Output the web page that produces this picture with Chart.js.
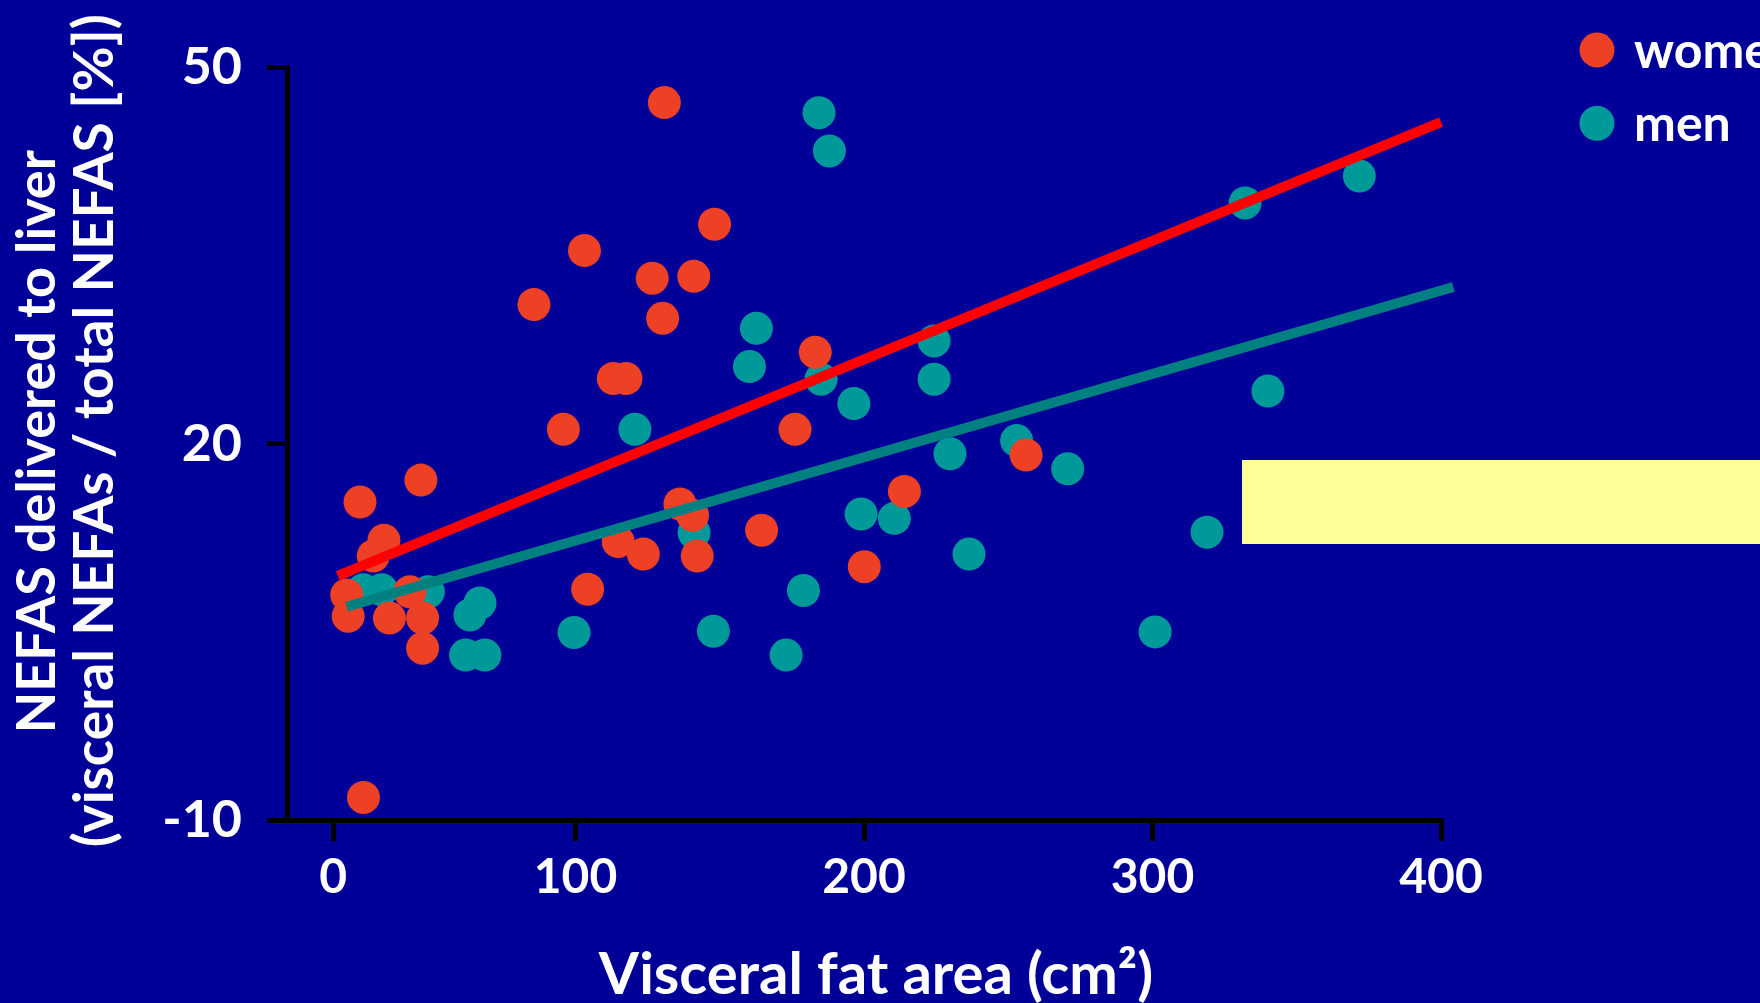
<!DOCTYPE html>
<html>
<head>
<meta charset="utf-8">
<script src="https://cdn.jsdelivr.net/npm/chart.js@4.4.0/dist/chart.umd.min.js"></script>
<style>
  html, body { margin: 0; padding: 0; background: #000099; overflow: hidden; }
  #wrap { position: relative; width: 1760px; height: 1003px; }
</style>
</head>
<body>
<div id="wrap"><canvas id="chart"></canvas></div>
<script>
// Visceral fat area (cm²) against the share of NEFAs delivered to the liver (%)
const seriesLabels = ['women', 'men'];

const womenX = [130.8, 103.1, 148.2, 126.6, 141.0, 85.6, 130.2, 113.1, 117.5, 183.1,
                95.8, 176.1, 256.2, 46.4, 25.3, 136.2, 140.6, 214.0, 164.5, 33.6,
                29.9, 114.8, 123.5, 142.2, 200.1, 104.2, 20.7, 42.6, 21.2, 35.5,
                47.0, 47.0, 26.5];
const womenY = [47.2, 35.4, 37.5, 33.2, 33.35, 31.1, 30.0, 25.2, 25.2, 27.3,
                21.15, 21.15, 19.1, 17.1, 15.35, 15.2, 14.3, 16.2, 13.1, 12.3,
                11.05, 12.2, 11.2, 11.05, 10.2, 8.4, 7.95, 8.2, 6.25, 6.1,
                6.1, 3.7, -8.2];

const menX = [184.4, 188.0, 371.7, 332.1, 162.7, 224.3, 160.3, 185.1, 224.3, 340.0,
              196.5, 120.6, 252.9, 229.8, 270.6, 141.1, 199.0, 210.5, 318.9, 236.4,
              179.0, 26.4, 32.8, 49.0, 66.9, 63.4, 61.9, 68.6, 99.5, 147.8,
              173.0, 300.9];
const menY = [46.4, 43.35, 41.35, 39.2, 29.2, 28.2, 26.15, 25.15, 25.15, 24.2,
              23.2, 21.15, 20.25, 19.2, 18.0, 12.9, 14.4, 14.05, 12.95, 11.2,
              8.3, 8.35, 8.35, 8.2, 7.3, 6.35, 3.15, 3.15, 4.95, 5.05,
              3.15, 5.0];

// regression line end points
const womenFitX = [17.6, 400];
const womenFitY = [9.46, 45.65];
const menFitX = [20.7, 404.3];
const menFitY = [7.0, 32.5];

// axis ticks
const xTickValues = [16, 100, 200, 300, 400];
const xTickLabels = ['0', '100', '200', '300', '400'];
const yTickValues = [-10, 20, 50];
const yTickLabels = ['-10', '20', '50'];

const xTitle = 'Visceral fat area (cm\u00B2)';
const yTitleLines = ['NEFAS delivered to liver', '(visceral NEFAs / total NEFAS [%])'];

const FONT = 'Lato';
const BG = '#000099';
const WOMEN_COLOR = '#ee4024';
const MEN_COLOR = '#009999';

const toPoints = (xs, ys) => xs.map((x, i) => ({ x: x, y: ys[i] }));

// solid background behind everything
const backgroundPlugin = {
  id: 'background',
  beforeDraw(chart) {
    const c = chart.ctx;
    c.save();
    c.fillStyle = BG;
    c.fillRect(0, 0, chart.width, chart.height);
    c.restore();
  }
};

// pale yellow panel on the right
const panelPlugin = {
  id: 'panel',
  afterDraw(chart) {
    const c = chart.ctx;
    c.save();
    c.fillStyle = '#ffff99';
    c.fillRect(1242, 460, chart.width - 1242, 84);
    c.restore();
  }
};

// axis titles
const titlesPlugin = {
  id: 'axisTitles',
  afterDraw(chart) {
    const c = chart.ctx;
    const a = chart.chartArea;
    c.save();
    c.fillStyle = '#ffffff';
    c.font = 'bold 58px ' + FONT;
    c.textAlign = 'center';
    c.textBaseline = 'alphabetic';
    c.fillText(xTitle, (a.left + a.right) / 2 + 12, 994);

    const mid = (a.top + a.bottom) / 2;
    const rows = [
      { x: 55, y: mid - 2, size: 54 },
      { x: 113, y: mid - 13, size: 55 }
    ];
    yTitleLines.forEach((line, i) => {
      c.save();
      c.font = 'bold ' + rows[i].size + 'px ' + FONT;
      c.translate(rows[i].x, rows[i].y);
      c.rotate(-Math.PI / 2);
      c.fillText(line, 0, 0);
      c.restore();
    });
    c.restore();
  }
};

// legend in the top right corner, built from the scatter series
const legendPlugin = {
  id: 'cornerLegend',
  afterDraw(chart) {
    const c = chart.ctx;
    c.save();
    c.font = 'bold 50px ' + FONT;
    c.textAlign = 'left';
    c.textBaseline = 'alphabetic';
    const rows = chart.data.datasets.filter(d => seriesLabels.includes(d.label));
    rows.forEach((d, i) => {
      const cy = 50 + i * 73.3;
      c.fillStyle = d.backgroundColor;
      c.beginPath();
      c.arc(1597, cy, 17.5, 0, Math.PI * 2);
      c.fill();
      c.fillStyle = '#ffffff';
      c.fillText(d.label, 1634, cy + 18);
    });
    c.restore();
  }
};

new Chart(document.getElementById('chart'), {
  type: 'scatter',
  data: {
    datasets: [
      {
        label: 'women fit',
        data: toPoints(womenFitX, womenFitY),
        showLine: true,
        borderColor: '#ff0000',
        borderWidth: 10,
        borderCapStyle: 'butt',
        pointRadius: 0,
        pointHoverRadius: 0,
        clip: false
      },
      {
        label: 'men fit',
        data: toPoints(menFitX, menFitY),
        showLine: true,
        borderColor: '#008080',
        borderWidth: 10,
        borderCapStyle: 'butt',
        pointRadius: 0,
        pointHoverRadius: 0,
        clip: false
      },
      {
        label: seriesLabels[0],
        data: toPoints(womenX, womenY),
        backgroundColor: WOMEN_COLOR,
        borderWidth: 0,
        pointRadius: 16.5,
        pointHoverRadius: 16.5,
        clip: false
      },
      {
        label: seriesLabels[1],
        data: toPoints(menX, menY),
        backgroundColor: MEN_COLOR,
        borderWidth: 0,
        pointRadius: 16.5,
        pointHoverRadius: 16.5,
        clip: false
      }
    ]
  },
  options: {
    responsive: true,
    maintainAspectRatio: false,
    animation: false,
    devicePixelRatio: 1,
    events: [],
    layout: { padding: { top: 67.5, right: 319, bottom: 0, left: 0 } },
    plugins: {
      legend: { display: false },
      tooltip: { enabled: false }
    },
    scales: {
      x: {
        type: 'linear',
        min: 0,
        max: 400,
        afterBuildTicks: s => { s.ticks = xTickValues.map(v => ({ value: v })); },
        afterFit: s => { s.height = 183; },
        grid: { drawOnChartArea: false, color: '#000', lineWidth: 5, tickLength: 21, tickColor: '#000', tickWidth: 5 },
        border: { color: '#000', width: 5 },
        ticks: {
          color: '#ffffff',
          font: { family: FONT, weight: 'bold', size: 48 },
          padding: 8,
          maxRotation: 0,
          autoSkip: false,
          callback: (v, i) => xTickLabels[i]
        }
      },
      y: {
        type: 'linear',
        min: -10,
        max: 50,
        afterBuildTicks: s => { s.ticks = yTickValues.map(v => ({ value: v })); },
        afterFit: s => { s.width = 287; },
        grid: { drawOnChartArea: false, color: '#000', lineWidth: 5, tickLength: 20, tickColor: '#000', tickWidth: 5 },
        border: { color: '#000', width: 5 },
        ticks: {
          color: '#ffffff',
          font: { family: FONT, weight: 'bold', size: 52 },
          padding: 25,
          autoSkip: false,
          callback: (v, i) => yTickLabels[i]
        }
      }
    }
  },
  plugins: [backgroundPlugin, panelPlugin, titlesPlugin, legendPlugin]
});
</script>
</body>
</html>
